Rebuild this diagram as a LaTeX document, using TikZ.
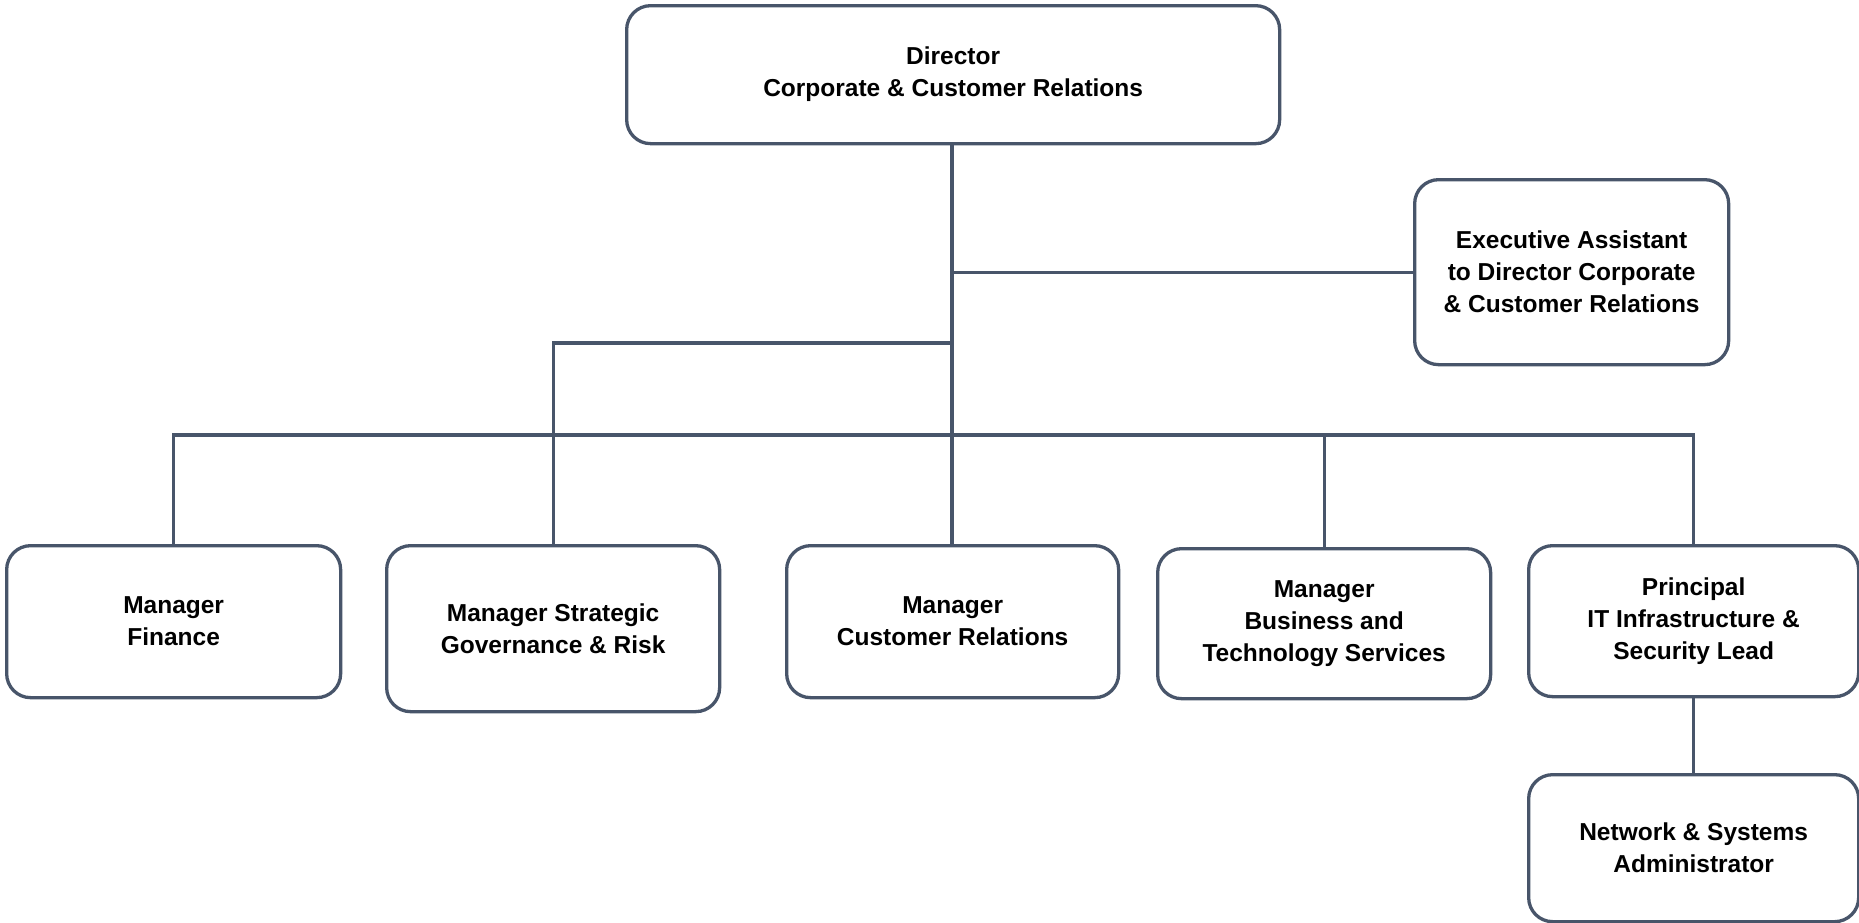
\documentclass[tikz,border=0pt]{standalone}
\usepackage{fontspec}
\setmainfont{Liberation Sans}
\definecolor{edge}{RGB}{72,85,106}
\begin{document}
\begin{tikzpicture}[x=1pt,y=-1pt,
  box/.style={draw=edge,line width=3.3pt,rounded corners=24pt,fill=white,anchor=north west,
    align=center,font=\fontsize{24.5}{32}\selectfont\bfseries,inner sep=0pt},
  link/.style={draw=edge,line width=3.3pt}]
\useasboundingbox (0,0) rectangle (1859,922);
\node[box,minimum width=653pt,minimum height=138pt] (dir) at (625,4) {Director\\Corporate \& Customer Relations};
\node[box,minimum width=314pt,minimum height=185pt] (ea) at (1413,178) {Executive Assistant\\to Director Corporate\\\& Customer Relations};
\node[box,minimum width=334pt,minimum height=152pt] (fin) at (5,544) {Manager\\Finance};
\node[box,minimum width=333pt,minimum height=166pt] (str) at (385,544) {Manager Strategic\\Governance \& Risk};
\node[box,minimum width=332pt,minimum height=152pt] (cr) at (785,544) {Manager\\Customer Relations};
\node[box,minimum width=333pt,minimum height=150pt] (bts) at (1156,547) {Manager\\Business and\\Technology Services};
\node[box,minimum width=330pt,minimum height=151pt] (pri) at (1527,544) {Principal\\IT Infrastructure \&\\Security Lead};
\node[box,minimum width=330pt,minimum height=147pt] (net) at (1527,773) {Network \& Systems\\Administrator};
\coordinate (bus) at (952,435);
\coordinate (sj) at (952,343);
\draw[link] (dir.south -| bus) -- (bus);
\draw[link] (ea.west) -- (ea.west -| bus);
\draw[link] (str.north) |- (sj);
\draw[link] (fin.north) |- (pri.north |- bus) -- (pri.north);
\draw[link] (cr.north -| bus) -- (bus);
\draw[link] (bts.north) -- (bts.north |- bus);
\draw[link] (pri.south) -- (net.north);
\end{tikzpicture}
\end{document}
